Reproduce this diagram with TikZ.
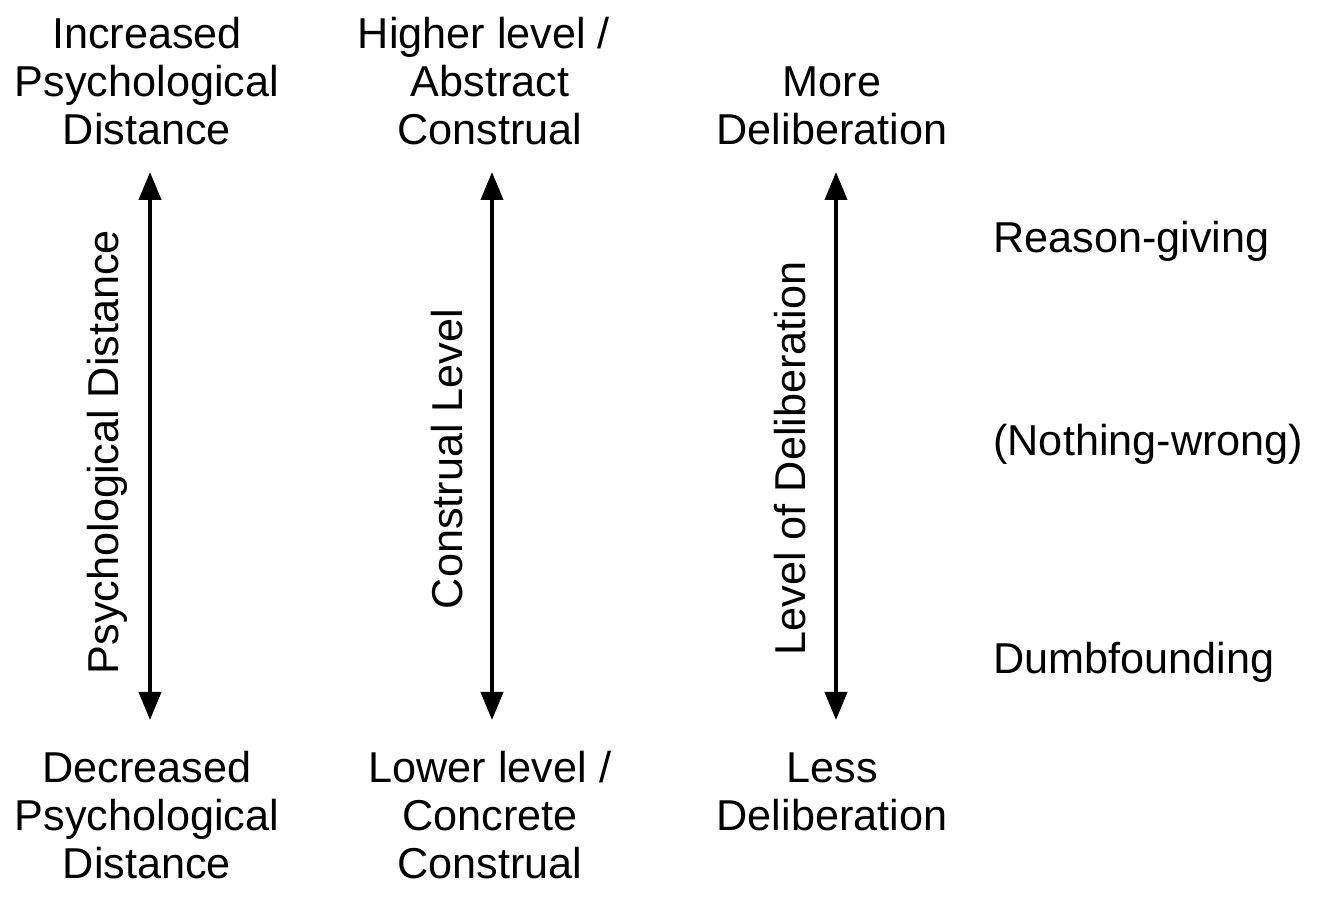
\documentclass[tikz,border=0pt]{standalone}
\usepackage{fontspec}
\setmainfont{Liberation Sans}
\usetikzlibrary{arrows.meta}
\begin{document}
\begin{tikzpicture}[x=0.5pt, y=-0.5pt,
	every node/.style={font=\fontsize{21.6}{24}\selectfont, align=center, inner sep=0pt},
	axisarrow/.style={line width=2pt, {Triangle[length=14pt,width=11pt]}-{Triangle[length=14pt,width=11pt]}}]
\useasboundingbox (0,0) rectangle (1319,897);
% end points of the three scales
\foreach \name/\xpos in {dist/150, cons/492, delib/836} {
	\coordinate (\name top) at (\xpos,172);
	\coordinate (\name bot) at (\xpos,720);
}
% labels at the ends
\node (disthi) at (147,81.5) {Increased\\Psychological\\Distance};
\node (distlo) at (147,815.5) {Decreased\\Psychological\\Distance};
\node (conshi) at (490,81.5) {Higher level /\kern6pt\\Abstract\\Construal};
\node (conslo) at (490,815.5) {Lower level /\\Concrete\\Construal};
\node (delibhi) at (832,105.5) {More\\Deliberation};
\node (deliblo) at (832,791.5) {Less\\Deliberation};
% scale names
\node[rotate=90] (distname) at (107,452) {Psychological Distance};
\node[rotate=90] (consname) at (447,459) {Construal Level};
\node[rotate=90] (delibname) at (790,458.5) {Level of Deliberation};
% responses
\node[anchor=base west] (reason) at (993,253) {Reason-giving};
\node[anchor=base west] (nothing) at (993,456) {(Nothing-wrong)};
\node[anchor=base west] (dumb) at (993,674) {Dumbfounding};
% arrows
\draw[axisarrow] (disttop) -- (distbot);
\draw[axisarrow] (constop) -- (consbot);
\draw[axisarrow] (delibtop) -- (delibbot);
\end{tikzpicture}
\end{document}
